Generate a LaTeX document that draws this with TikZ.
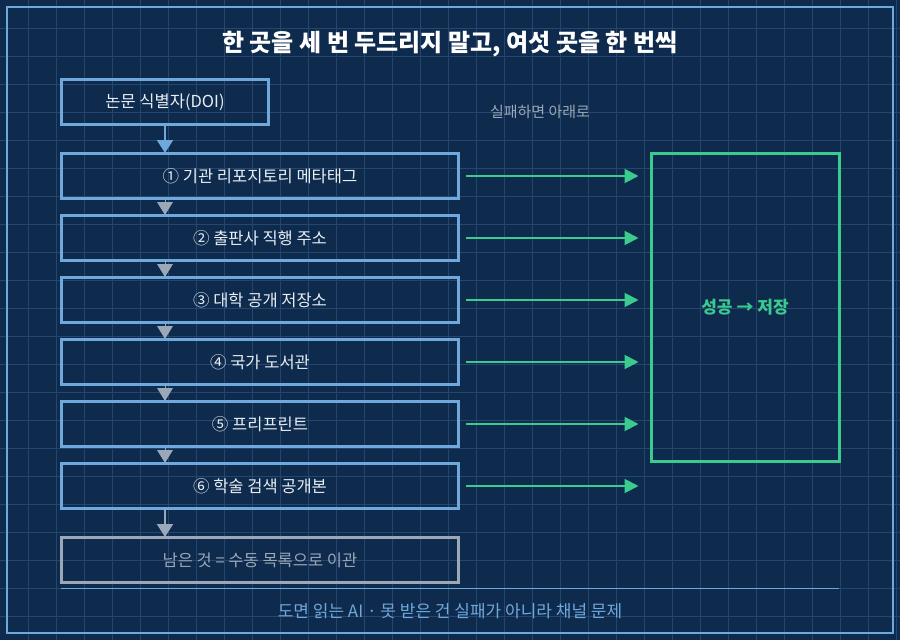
\documentclass[tikz,border=0pt]{standalone}
\usepackage{fontspec}
\setmainfont{Noto Sans CJK KR}
\usetikzlibrary{arrows.meta}
\definecolor{bg}{HTML}{0E2A4C}
\definecolor{gridc}{HTML}{25466E}
\definecolor{lb}{HTML}{6FA8DC}
\definecolor{gr}{HTML}{9AA8B8}
\definecolor{gn}{HTML}{3CCB8F}
\definecolor{txt}{HTML}{E8EEF5}
\tikzset{
 stepbox/.style={draw=lb,line width=3pt,minimum width=397pt,minimum height=45pt,inner sep=0pt,text=txt,font=\fontsize{16.5}{19}\selectfont},
 tri/.style={-{Triangle[length=13pt,width=16pt]},gr,line width=2pt},
 garr/.style={-{Triangle[length=14pt,width=14pt]},gn,line width=2pt},
}
\begin{document}
\begin{tikzpicture}[x=1pt,y=-1pt]
\fill[bg] (0,0) rectangle (900,640);
\useasboundingbox (0,0) rectangle (900,640);
\foreach \i in {1,...,32}{\draw[gridc,line width=1pt] (28*\i,0) -- (28*\i,640);}
\foreach \i in {1,...,22}{\draw[gridc,line width=1pt] (0,28*\i) -- (900,28*\i);}
\draw[lb,line width=2pt] (7,7) rectangle (893,633);
\node[text=white,font=\bfseries\fontsize{24}{28}\selectfont] (title) at (450,44) {한 곳을 세 번 두드리지 말고, 여섯 곳을 한 번씩};
\node[stepbox,minimum width=207pt] (doi) at (165,102) {논문 식별자(DOI)};
\node[text=gr,font=\fontsize{15}{18}\selectfont] (hint) at (540,112) {실패하면 아래로};
\node[stepbox] (s1) at (260,176) {① 기관 리포지토리 메타태그};
\node[stepbox] (s2) at (260,238) {② 출판사 직행 주소};
\node[stepbox] (s3) at (260,300) {③ 대학 공개 저장소};
\node[stepbox] (s4) at (260,362) {④ 국가 도서관};
\node[stepbox] (s5) at (260,424) {⑤ 프리프린트};
\node[stepbox] (s6) at (260,486) {⑥ 학술 검색 공개본};
\node[stepbox,draw=gr,text=gr] (rest) at (260,560) {남은 것 = 수동 목록으로 이관};
\node[draw=gn,line width=3pt,minimum width=188pt,minimum height=308pt,text=gn,font=\bfseries\fontsize{17}{20}\selectfont] (ok) at (745,307) {성공 → 저장};
\draw[tri,lb] ([yshift=2pt]doi.south) -- ([yshift=-1pt]s1.north -| doi.south);
\foreach \a/\b in {s1/s2,s2/s3,s3/s4,s4/s5,s5/s6}{
  \draw[tri,line width=0pt] ([yshift=1pt]\a.south -| doi.south) -- ([yshift=-1pt]\b.north -| doi.south);
}
\draw[tri] ([yshift=2pt]s6.south -| doi.south) -- ([yshift=-1pt]rest.north -| doi.south);
\foreach \s in {s1,s2,s3,s4,s5,s6}{
  \draw[garr] ([xshift=6pt]\s.east) -- ([xshift=-11pt]\s.east -| ok.west);
}
\coordinate (l1) at (61,588); \coordinate (l2) at (839,588);
\draw[lb,line width=1pt] (l1) -- (l2);
\node[text=lb,font=\fontsize{17}{20}\selectfont] (foot) at (450,611) {도면 읽는 AI · 못 받은 건 실패가 아니라 채널 문제};
\end{tikzpicture}
\end{document}
